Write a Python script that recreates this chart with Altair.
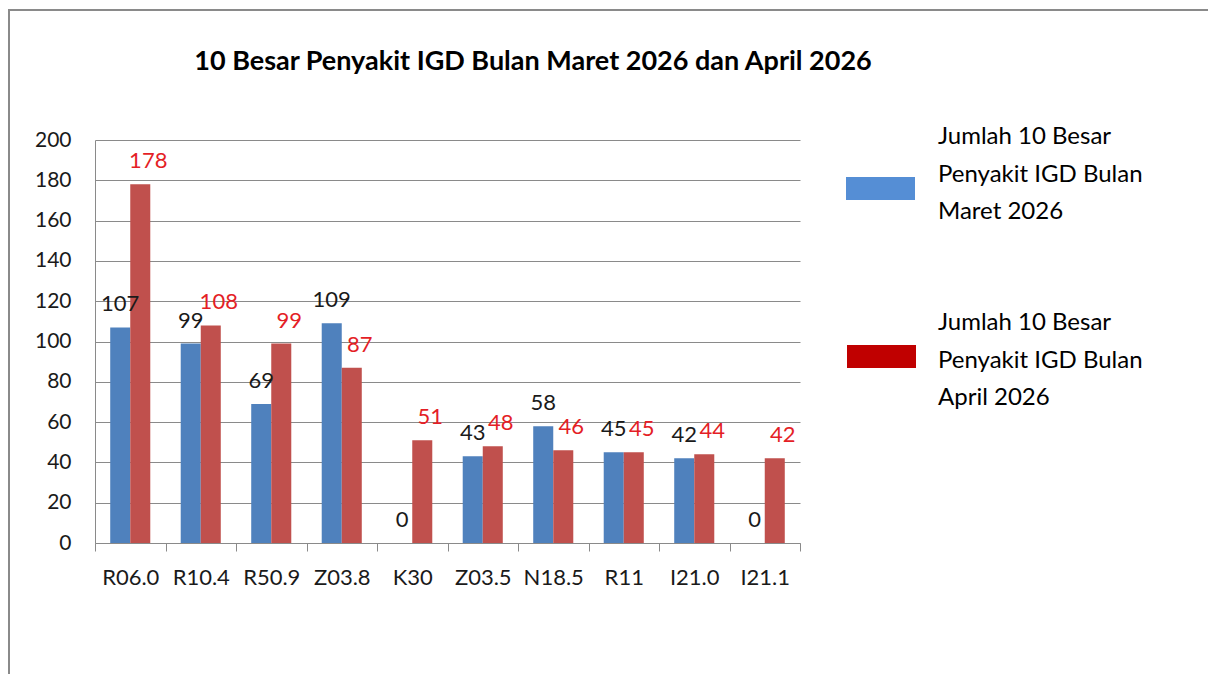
import altair as alt
import pandas as pd

categories = ["R06.0", "R10.4", "R50.9", "Z03.8", "K30", "Z03.5", "N18.5", "R11", "I21.0", "I21.1"]
maret = [107, 99, 69, 109, 0, 43, 58, 45, 42, 0]
april = [178, 108, 99, 87, 51, 48, 46, 45, 44, 42]
series_names = ["Maret 2026", "April 2026"]
legend_lines = [
    ["Jumlah 10 Besar", "Penyakit IGD Bulan", "Maret 2026"],
    ["Jumlah 10 Besar", "Penyakit IGD Bulan", "April 2026"],
]
bar_colors = ["#4F81BD", "#C0504D"]
label_colors = ["#1A1A1A", "#E41E26"]
swatch_colors = ["#558ED5", "#C00000"]
y_ticks = list(range(0, 201, 20))
title_text = "10 Besar Penyakit IGD Bulan Maret 2026 dan April 2026"

rows = []
for s, vals in zip(series_names, [maret, april]):
    for c, v in zip(categories, vals):
        rows.append({"category": c, "series": s, "value": v})
df = pd.DataFrame(rows)

W, H = 705, 403
FONT = "Lato"
GRID = "#8A8A8A"

x_enc = alt.X(
    "category:N",
    sort=categories,
    scale=alt.Scale(paddingInner=0, paddingOuter=0),
    axis=alt.Axis(
        title=None, labelAngle=0, tickBand="extent", tickSize=8, tickColor=GRID,
        domainColor=GRID, labelFontSize=22, labelPadding=16, labelColor="#1A1A1A",
        labelFont=FONT, grid=False,
    ),
)
xoff_enc = alt.XOffset("series:N", sort=series_names,
                       scale=alt.Scale(paddingOuter=0.76, paddingInner=0))
y_enc = alt.Y(
    "value:Q",
    scale=alt.Scale(domain=[0, 200], nice=False),
    axis=alt.Axis(
        title=None, values=y_ticks, grid=True, gridColor=GRID, domainColor=GRID,
        ticks=False, labelFontSize=21, labelPadding=24, labelColor="#1A1A1A",
        labelFont=FONT,
    ),
)

base = alt.Chart(df)

bars = base.mark_bar().encode(
    x=x_enc,
    xOffset=xoff_enc,
    y=y_enc,
    color=alt.Color("series:N", sort=series_names,
                    scale=alt.Scale(domain=series_names, range=bar_colors), legend=None),
)

label_layers = []
for s, col, dx in zip(series_names, label_colors, [0, 8]):
    label_layers.append(
        base.transform_filter(alt.datum.series == s)
        .mark_text(font=FONT, fontSize=22, color=col, dx=dx, dy=-23, baseline="middle", align="center")
        .encode(x=x_enc, xOffset=xoff_enc, y=y_enc, text=alt.Text("value:Q"))
    )

title = alt.Chart(pd.DataFrame({"t": [title_text]})).mark_text(
    font=FONT, fontSize=27, fontWeight="bold", color="#000000", align="center", baseline="middle"
).encode(x=alt.value(438), y=alt.value(-78), text="t:N")

frame = alt.Chart(pd.DataFrame({"a": [0]})).mark_rect(
    fillOpacity=0, stroke="#8A8A8A", strokeWidth=2
).encode(x=alt.value(-86), x2=alt.value(1130), y=alt.value(-130), y2=alt.value(570))

legend_layers = []
sw_pos = [(751, 820, 37, 60), (752, 821, 205, 228)]
txt_y = [-3, 183]
for i in range(2):
    x1, x2, y1, y2 = sw_pos[i]
    legend_layers.append(
        alt.Chart(pd.DataFrame({"a": [0]})).mark_rect(color=swatch_colors[i]).encode(
            x=alt.value(x1), x2=alt.value(x2), y=alt.value(y1), y2=alt.value(y2)
        )
    )
    legend_layers.append(
        alt.Chart(pd.DataFrame({"a": [0]})).mark_text(
            font=FONT, fontSize=24, color="#000000", align="left", baseline="middle", lineHeight=37.5
        ).encode(x=alt.value(843), y=alt.value(txt_y[i]), text=alt.value(legend_lines[i]))
    )

chart = alt.layer(frame, bars, *label_layers, title, *legend_layers).properties(
    width=W, height=H,
    autosize=alt.AutoSizeParams(type="none"),
    padding={"left": 87, "top": 132, "right": 408, "bottom": 131},
    background="white",
).configure_view(stroke=None)

chart.save("out.html", embed_options={"renderer": "svg", "actions": False})
